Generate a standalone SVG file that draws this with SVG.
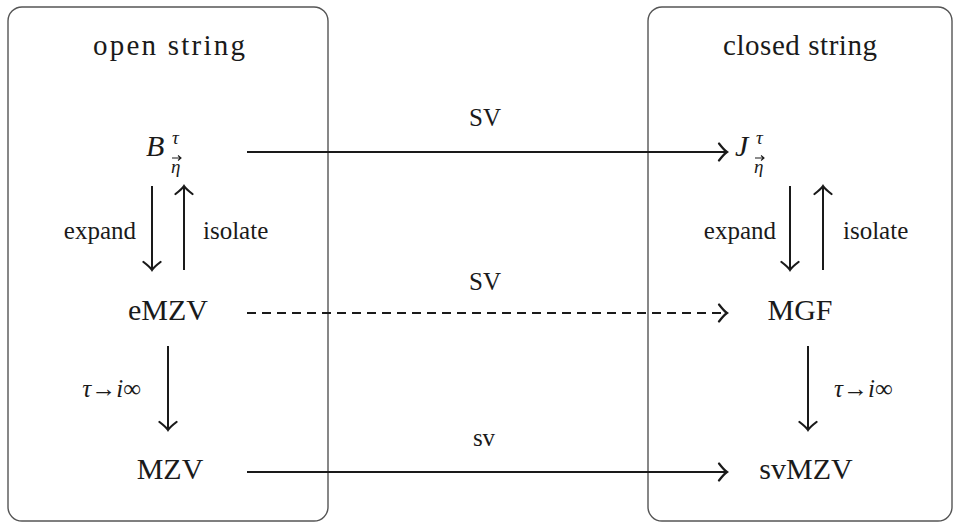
<svg xmlns="http://www.w3.org/2000/svg" width="960" height="528" viewBox="0 0 960 528" font-family="'Liberation Serif', 'DejaVu Serif', serif">
<defs>
<style>
text{fill:#1a1a1a}
.t{font-size:30px}
.h{font-size:29px}
.lab{font-size:25px}
.m{font-style:italic}
.box{fill:none;stroke:#555;stroke-width:1.4}
.c{fill:none;stroke:#1a1a1a;stroke-width:2}
.d{stroke-dasharray:9 6}
.va{fill:none;stroke:#1a1a1a;stroke-width:1.1}
</style>
<marker id="ah" markerWidth="12" markerHeight="20" viewBox="-10 -10 12 20" refX="0" refY="0" orient="auto" markerUnits="userSpaceOnUse">
<path d="M-8,-8.5 Q-3,-2 0,0 Q-3,2 -8,8.5" fill="none" stroke="#1a1a1a" stroke-width="2.2" stroke-linecap="round"/>
</marker>
</defs>
<g id="open-box"><rect class="box" x="8" y="7" width="320" height="514" rx="14"/><text class="h" x="169" y="55" text-anchor="middle" textLength="152" lengthAdjust="spacing">open string</text></g>
<g id="closed-box"><rect class="box" x="648" y="7" width="304" height="514" rx="14"/><text class="h" x="800" y="55" text-anchor="middle" textLength="154" lengthAdjust="spacing">closed string</text></g>
<g id="B"><text class="t m" x="146" y="156">B</text><text class="m" x="172" y="144" font-size="19">τ</text><text class="m" x="171" y="173" font-size="19">η</text><path class="va" d="M172,158 L181,158 M178,155.5 L181,158 L178,160.5"/></g>
<g id="J"><text class="t m" x="735" y="156">J</text><text class="m" x="756" y="144" font-size="19">τ</text><text class="m" x="754" y="173" font-size="19">η</text><path class="va" d="M755,158 L764,158 M761,155.5 L764,158 L761,160.5"/></g>
<g id="eMZV"><text class="t" x="168" y="320" text-anchor="middle">eMZV</text></g>
<g id="MGF"><text class="t" x="800" y="320" text-anchor="middle">MGF</text></g>
<g id="MZV"><text class="t" x="170" y="479" text-anchor="middle">MZV</text></g>
<g id="svMZV"><text class="t" x="806" y="479" text-anchor="middle">svMZV</text></g>
<g id="connectors">
<line class="c" x1="247" y1="152" x2="727" y2="152" marker-end="url(#ah)"/>
<text class="lab" x="485" y="126" text-anchor="middle">SV</text>
<line class="c d" x1="247" y1="313" x2="727" y2="313" marker-end="url(#ah)"/>
<text class="lab" x="485" y="290" text-anchor="middle">SV</text>
<line class="c" x1="247" y1="472" x2="727" y2="472" marker-end="url(#ah)"/>
<text class="lab" x="484" y="446" text-anchor="middle">sv</text>
<line class="c" x1="152" y1="186" x2="152" y2="270" marker-end="url(#ah)"/>
<line class="c" x1="184" y1="270" x2="184" y2="186" marker-end="url(#ah)"/>
<text class="lab" x="136" y="239" text-anchor="end">expand</text>
<text class="lab" x="203" y="239">isolate</text>
<line class="c" x1="790" y1="186" x2="790" y2="270" marker-end="url(#ah)"/>
<line class="c" x1="823" y1="270" x2="823" y2="186" marker-end="url(#ah)"/>
<text class="lab" x="776" y="239" text-anchor="end">expand</text>
<text class="lab" x="843" y="239">isolate</text>
<line class="c" x1="168" y1="346" x2="168" y2="430" marker-end="url(#ah)"/>
<text class="lab" x="141" y="397" text-anchor="end"><tspan class="m">τ</tspan>→<tspan class="m">i</tspan>∞</text>
<line class="c" x1="808" y1="346" x2="808" y2="430" marker-end="url(#ah)"/>
<text class="lab" x="834" y="397"><tspan class="m">τ</tspan>→<tspan class="m">i</tspan>∞</text>
</g>
</svg>
